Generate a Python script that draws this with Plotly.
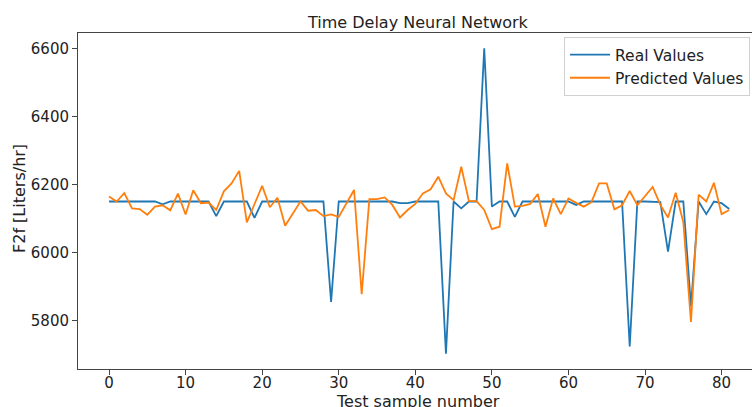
import plotly.graph_objects as go

sample_idx = list(range(82))

real_values = [
    6150, 6150, 6150, 6150, 6150, 6150, 6150, 6142, 6150, 6150,
    6150, 6150, 6150, 6150, 6107, 6150, 6150, 6150, 6150, 6102,
    6150, 6150, 6150, 6150, 6150, 6150, 6150, 6150, 6150, 5855,
    6150, 6150, 6150, 6150, 6150, 6150, 6150, 6150, 6145, 6145,
    6150, 6150, 6150, 6150, 5703, 6150, 6130, 6150, 6150, 6600,
    6135, 6150, 6150, 6105, 6150, 6150, 6150, 6150, 6150, 6150,
    6150, 6140, 6150, 6150, 6150, 6150, 6150, 6150, 5724, 6150,
    6150, 6150, 6148, 6003, 6150, 6150, 5842, 6150, 6113, 6150,
    6145, 6128,
]

predicted_values = [
    6165, 6150, 6175, 6130, 6128, 6111, 6135, 6139, 6124, 6173,
    6112, 6183, 6145, 6147, 6125, 6180, 6203, 6240, 6089, 6140,
    6196, 6133, 6161, 6079, 6115, 6150, 6123, 6125, 6107, 6112,
    6105, 6145, 6184, 5878, 6157, 6157, 6162, 6140, 6103, 6125,
    6143, 6174, 6186, 6223, 6174, 6154, 6252, 6151, 6151, 6125,
    6069, 6076, 6262, 6135, 6137, 6143, 6172, 6076, 6159, 6113,
    6159, 6146, 6135, 6148, 6203, 6203, 6127, 6139, 6181, 6139,
    6165, 6193, 6140, 6103, 6176, 6090, 5796, 6170, 6150, 6205,
    6113, 6125,
]

x_ticks = [0, 10, 20, 30, 40, 50, 60, 70, 80]
y_ticks = [5800, 6000, 6200, 6400, 6600]

FONT = "DejaVu Sans"
TXT = "#222222"
AX = "#444444"

fig = go.Figure()
fig.add_trace(go.Scatter(x=sample_idx, y=real_values, mode="lines",
                         name="Real Values",
                         line=dict(color="#1f77b4", width=1.8)))
fig.add_trace(go.Scatter(x=sample_idx, y=predicted_values, mode="lines",
                         name="Predicted Values",
                         line=dict(color="#ff7f0e", width=1.8)))

fig.update_layout(
    width=752, height=407,
    margin=dict(l=78, r=0, t=33, b=38, autoexpand=False),
    paper_bgcolor="white", plot_bgcolor="white",
    font=dict(family=FONT, size=16, color=TXT),
    showlegend=True,
    legend=dict(x=0.7211, y=0.988, xanchor="left", yanchor="top",
                bgcolor="rgba(255,255,255,0.8)", bordercolor="#d0d0d0",
                borderwidth=1, font=dict(family=FONT, size=15.5, color=TXT),
                tracegroupgap=0, itemwidth=40),
    xaxis=dict(range=[-4.05, 83.97], tickmode="array", tickvals=x_ticks,
               showgrid=False, zeroline=False, showline=True, linecolor=AX,
               linewidth=1, mirror=True, ticks="outside", ticklen=5,
               tickcolor=AX, tickfont=dict(size=15, color=TXT),
               ticklabelstandoff=-5, automargin=False),
    yaxis=dict(range=[5658, 6645], tickmode="array", tickvals=y_ticks,
               showgrid=False, zeroline=False, showline=True, linecolor=AX,
               linewidth=1, mirror=False, ticks="outside", ticklen=5,
               tickcolor=AX, tickfont=dict(size=15, color=TXT),
               automargin=False),
    annotations=[
        dict(text="Time Delay Neural Network", xref="paper", yref="paper",
             x=0.505, y=1.0, yshift=11, xanchor="center", yanchor="middle",
             showarrow=False, font=dict(size=16, color=TXT)),
        dict(text="Test sample number", xref="paper", yref="paper",
             x=0.505, y=0, yshift=-32, xanchor="center", yanchor="middle",
             showarrow=False, font=dict(size=16, color=TXT)),
        dict(text="F2f [Liters/hr]", xref="paper", yref="paper",
             x=0, xshift=-58, y=0.506, xanchor="center", yanchor="middle",
             textangle=-90, showarrow=False, font=dict(size=16, color=TXT)),
    ],
)

fig.write_html("out.html",
               config={"displayModeBar": False},
               post_script="document.body.style.margin='0';"
                           "document.body.style.overflow='hidden';")
